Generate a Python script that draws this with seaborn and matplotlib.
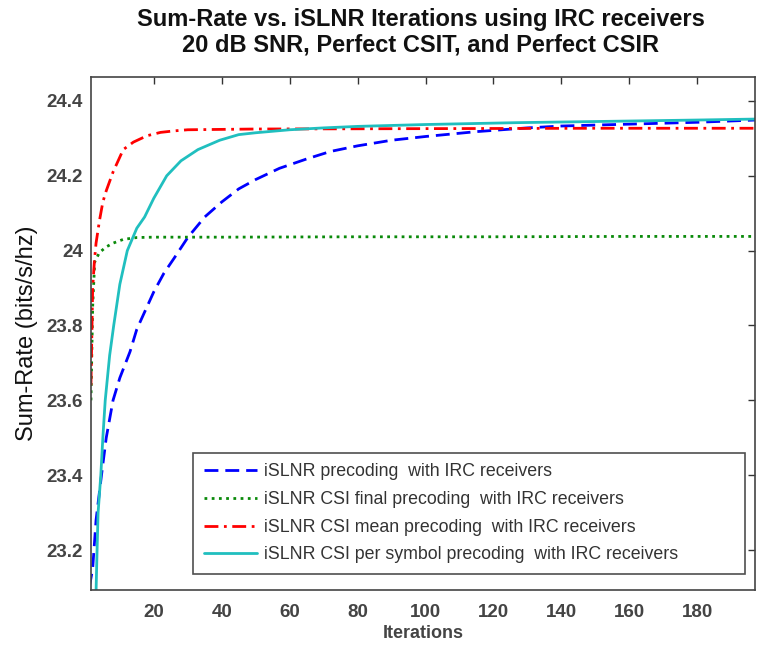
import numpy as np
import pandas as pd
import matplotlib
matplotlib.use("Agg")
import matplotlib.pyplot as plt
import seaborn as sns

sns.set_style("white")
plt.rcParams['font.family'] = ['Liberation Sans', 'DejaVu Sans']

# --- data ---
iters_blue = [1, 2, 3, 4.6, 6, 8, 10, 13, 15, 18, 20, 23, 26, 30, 35, 40, 45, 50, 57, 65, 72, 80, 90, 100, 115, 130, 140, 160, 180, 200]
sr_blue = [23.10, 23.15, 23.28, 23.40, 23.50, 23.60, 23.66, 23.73, 23.79, 23.85, 23.89, 23.94, 23.98, 24.035, 24.09, 24.13, 24.165, 24.19, 24.22, 24.245, 24.265, 24.28, 24.295, 24.305, 24.318, 24.328, 24.333, 24.338, 24.343, 24.35]

iters_green = [1.5, 2, 2.6, 4, 6, 8, 11, 15, 20, 40, 80, 120, 160, 200]
sr_green = [23.60, 23.85, 23.97, 23.995, 24.01, 24.02, 24.03, 24.035, 24.036, 24.036, 24.037, 24.037, 24.038, 24.038]

iters_red = [1.5, 2, 2.5, 3, 4, 5, 6, 8, 10, 11, 14, 18, 22, 26, 30, 50, 100, 150, 200]
sr_red = [23.64, 23.90, 23.97, 24.02, 24.08, 24.13, 24.16, 24.21, 24.25, 24.27, 24.29, 24.307, 24.316, 24.32, 24.323, 24.325, 24.326, 24.327, 24.327]

iters_cyan = [3, 3.3, 3.6, 4.4, 5, 5.7, 7, 8.2, 10, 12.2, 15, 17.3, 20, 23.8, 28, 33, 39.4, 45, 50, 60, 70, 80, 100, 127, 150, 180, 200]
sr_cyan = [23.09, 23.20, 23.30, 23.40, 23.50, 23.60, 23.72, 23.80, 23.91, 24.00, 24.06, 24.09, 24.14, 24.20, 24.24, 24.27, 24.295, 24.31, 24.315, 24.323, 24.328, 24.332, 24.337, 24.342, 24.345, 24.349, 24.352]

labels = ["iSLNR precoding  with IRC receivers",
          "iSLNR CSI final precoding  with IRC receivers",
          "iSLNR CSI mean precoding  with IRC receivers",
          "iSLNR CSI per symbol precoding  with IRC receivers"]

fig = plt.figure(figsize=(7.58, 6.47), dpi=100)
ax = fig.add_axes([0.120, 0.088, 0.876, 0.793])

series = [
    (iters_blue, sr_blue, '#0000ff', (0, (5, 2.5))),
    (iters_green, sr_green, '#0a8a0a', (0, (1, 1.6))),
    (iters_red, sr_red, '#ff0000', (0, (5, 2, 1, 2))),
    (iters_cyan, sr_cyan, '#20bfbf', '-'),
]
for (x, y, c, ls), lab in zip(series, labels):
    sns.lineplot(x=x, y=y, ax=ax, color=c, linestyle=ls, linewidth=2.0, label=lab)

ax.set_xlim(1.5, 197)
ax.set_ylim(23.093, 24.464)
ax.set_xticks([20, 40, 60, 80, 100, 120, 140, 160, 180])
ax.set_yticks([23.2, 23.4, 23.6, 23.8, 24.0, 24.2, 24.4])
ax.set_yticklabels(["23.2", "23.4", "23.6", "23.8", "24", "24.2", "24.4"])
ax.tick_params(direction='in', length=5, width=1, top=True, right=True,
               labelsize=13.5, colors='#333333', pad=6)
ax.tick_params(axis='x', pad=10)
for lbl in ax.get_xticklabels() + ax.get_yticklabels():
    lbl.set_fontweight('bold')
    lbl.set_color('#444444')
for s in ax.spines.values():
    s.set_color('#444444')
    s.set_linewidth(1.2)

ax.set_xlabel("Iterations", fontsize=13, fontweight='bold', color='#444444', labelpad=3)
ax.set_ylabel("Sum-Rate (bits/s/hz)", fontsize=17, color='#111111', labelpad=6)
fig.text(0.555, 0.950, "Sum-Rate vs. iSLNR Iterations using IRC receivers\n20 dB SNR, Perfect CSIT, and Perfect CSIR",
         fontsize=17, fontweight='bold', ha='center', va='center', linespacing=1.12, color='#111111')

leg = ax.legend(loc='lower left', bbox_to_anchor=(0.1536, 0.031, 0.831, 0.238), mode='expand',
                fontsize=12.8, frameon=True, fancybox=False, edgecolor='#222222', handlelength=3.0,
                handletextpad=0.4, labelspacing=0.6, borderpad=0.6, borderaxespad=0)
leg.get_frame().set_linewidth(1.2)
for t in leg.get_texts():
    t.set_color('#333333')

fig.savefig("out.png", dpi=100)
